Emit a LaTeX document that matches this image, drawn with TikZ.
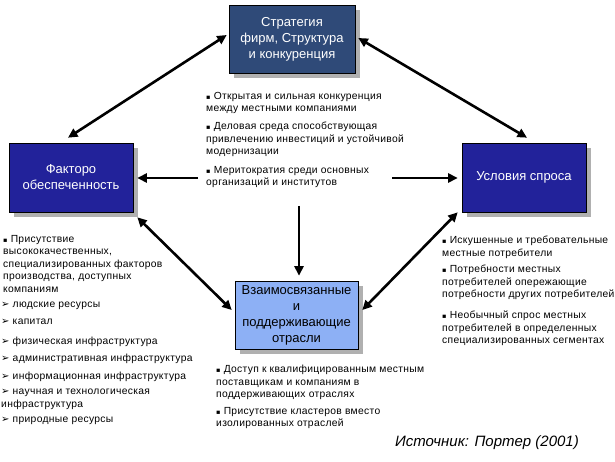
\documentclass[tikz,border=0pt]{standalone}
\usepackage{fontspec}
\setmainfont{Liberation Sans}
\newfontfamily\bodyfont[LetterSpace=3]{Liberation Sans}
\newfontfamily\symfont{DejaVu Sans}
\usetikzlibrary{arrows.meta,calc}
\definecolor{stratblue}{HTML}{2F4A78}
\definecolor{navyblue}{HTML}{22229A}
\definecolor{lightblue}{HTML}{8DB0F5}
\definecolor{shadowgray}{HTML}{B0B0B0}
\newcommand{\sqb}{{\symfont\fontsize{6.5}{6}\selectfont\char"25AA}\ }
\newcommand{\arb}{{\symfont\fontsize{10}{8}\selectfont\char"27A2}\ }
\tikzset{
  boxstyle/.style={draw=black, line width=0.6pt, minimum width=#1, inner sep=2pt, align=center,
    font=\fontsize{13}{16}\selectfont},
  darkbox/.style={boxstyle=124pt, fill=navyblue, text=white, minimum height=69pt},
  bodytext/.style={anchor=north west, inner sep=0pt, align=left, font=\bodyfont\fontsize{10.3}{12.5}\selectfont},
  bigarrow/.style={line width=2.6pt, -{Triangle[length=9.5pt,width=9pt]}},
  bothways/.style={line width=2.6pt, {Triangle[length=9.5pt,width=9pt]}-{Triangle[length=9.5pt,width=9pt]}}
}
\begin{document}
\begin{tikzpicture}[x=1pt,y=-1pt]
\useasboundingbox (0,0) rectangle (615,462);
% shadows
\fill[shadowgray] (234,10) rectangle (360,78);
\fill[shadowgray] (14,148) rectangle (138,217);
\fill[shadowgray] (467,148) rectangle (591,217);
\fill[shadowgray] (240,286) rectangle (363,354);
% boxes
\node[boxstyle=126pt, fill=stratblue, text=white, minimum height=68pt] (strat) at (292,39) {Стратегия\\фирм, Структура\\и конкуренция};
\node[darkbox] (fact) at (71,177.5) {Факторо\\обеспеченность};
\node[darkbox] (demand) at (524,177.5) {Условия спроса};
\node[boxstyle=123pt, fill=lightblue, text=black, minimum height=68pt] (rel) at (296.5,315) {Взаимосвязанные\\и\\поддерживающие\\отрасли};
% free ends
\coordinate (lfree) at (198,178);
\coordinate (rfree) at (392,178);
\coordinate (vfree) at (299,206);
% arrows
\draw[bothways] ($(fact.north)+(-3,-5)$) -- ($(strat.west)+(-2,-4)$);
\draw[bothways] ($(strat.east)+(3,-1)$) -- ($(demand.north)+(3,-5)$);
\draw[bigarrow] (lfree) -- ($(fact.east)+(4,0.5)$);
\draw[bigarrow] (rfree) -- ($(demand.west)+(-4,0.5)$);
\draw[bigarrow] (vfree) -- ($(rel.north)+(2.5,-5)$);
\draw[bothways] ($(fact.south east)+(4,5)$) -- ($(rel.west)+(-3,-5)$);
\draw[bothways] ($(demand.south west)+(-4,0)$) -- ($(rel.east)+(4,-5)$);
% center text
\node[bodytext] (c1) at (206,92) {\sqb Открытая и сильная конкуренция\\между местными компаниями};
\node[bodytext] (c2) at (206,122) {\sqb Деловая среда способствующая\\привлечению инвестиций и устойчивой\\модернизации};
\node[bodytext] (c3) at (206,166) {\sqb Меритократия среди основных\\организаций и институтов};
% left text
\node[bodytext] (l1) at (3,235) {\sqb Присутствие\\высококачественных,\\специализированных факторов\\производства, доступных\\компаниям};
\node[bodytext] (l2) at (1,302) {\arb людские ресурсы};
\node[bodytext] (l3) at (1,319) {\arb капитал};
\node[bodytext] (l4) at (1,337) {\arb физическая инфраструктура};
\node[bodytext] (l5) at (1,354) {\arb административная инфраструктура};
\node[bodytext] (l6) at (1,372) {\arb информационная инфраструктура};
\node[bodytext] (l7) at (1,389) {\arb научная и технологическая\\инфраструктура};
\node[bodytext] (l8) at (1,417) {\arb природные ресурсы};
% right text
\node[bodytext] (r1) at (442,236) {\sqb Искушенные и требовательные\\местные потребители};
\node[bodytext] (r2) at (442,265) {\sqb Потребности местных\\потребителей опережающие\\потребности других потребителей};
\node[bodytext] (r3) at (442,311) {\sqb Необычный спрос местных\\потребителей в определенных\\специализированных сегментах};
% bottom text
\node[bodytext] (b1) at (216,365) {\sqb Доступ к квалифицированным местным\\поставщикам и компаниям в\\поддерживающих отраслях};
\node[bodytext] (b2) at (216,407) {\sqb Присутствие кластеров вместо\\изолированных отраслей};
% source
\node[anchor=center, inner sep=0pt, font=\fontsize{15}{18}\selectfont\itshape] (src) at (487,443) {Источник: Портер (2001)};
\end{tikzpicture}
\end{document}
